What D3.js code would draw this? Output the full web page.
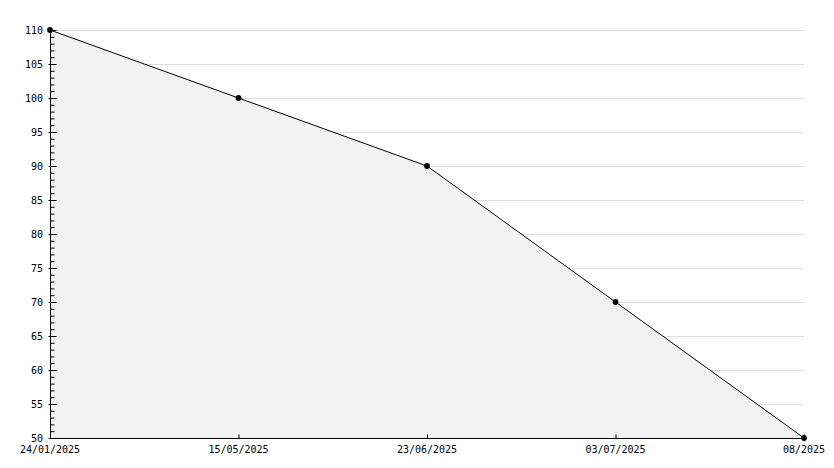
<!DOCTYPE html>
<html><head><meta charset="utf-8">
<script src="https://cdn.jsdelivr.net/npm/d3@7"></script>
<style>
html,body{margin:0;padding:0;background:#fff;}
svg{display:block;}
text{font-family:"DejaVu Sans Mono",monospace;font-size:10px;fill:#000;}
</style></head>
<body>
<svg id="chart" width="834" height="468"></svg>
<script>
const categories = ["24/01/2025","15/05/2025","23/06/2025","03/07/2025","08/2025"];
const values = [110, 100, 90, 70, 50];
const yMajorTicks = [50,55,60,65,70,75,80,85,90,95,100,105,110];
const yMin = 50, yMax = 110;

const svg = d3.select("#chart");
const L = 50, R = 804, T = 30, B = 438;

const x = d3.scalePoint().domain(categories).range([L, R]);
const y = d3.scaleLinear().domain([yMin, yMax]).range([B, T]);

// gridlines
svg.append("g").selectAll("line").data(yMajorTicks.filter(v => v !== yMin)).join("line")
  .attr("x1", L).attr("x2", R)
  .attr("y1", d => Math.round(y(d)) + 0.5).attr("y2", d => Math.round(y(d)) + 0.5)
  .attr("stroke", "#dddddd").attr("stroke-width", 1);

// area
const pts = categories.map((c, i) => ({c, v: values[i]}));
svg.append("path").datum(pts)
  .attr("d", d3.area().x(d => x(d.c)).y0(y(yMin)).y1(d => y(d.v)))
  .attr("fill", "#f2f2f2");

// line
svg.append("path").datum(pts)
  .attr("d", d3.line().x(d => x(d.c)).y(d => y(d.v)))
  .attr("fill", "none").attr("stroke", "#000").attr("stroke-width", 1);

// y axis
const yAxis = d3.axisRight(y).tickValues(yMajorTicks).tickSize(6).tickFormat("");
const gy = svg.append("g").attr("transform", `translate(${L + 0.5},0)`).call(yAxis);
gy.select(".domain").attr("d", `M0,${T}V${B}`).attr("stroke", "#000");
gy.selectAll(".tick line").attr("x1", -2).attr("x2", 6).attr("stroke", "#000");
// minor ticks
const minor = d3.range(yMin, yMax + 1, 1).filter(v => !yMajorTicks.includes(v));
const yMinor = d3.axisRight(y).tickValues(minor).tickSize(4).tickFormat("");
const gym = svg.append("g").attr("transform", `translate(${L + 0.5},0)`).call(yMinor);
gym.select(".domain").remove();
gym.selectAll(".tick line").attr("stroke", "#000");
// y labels
svg.append("g").selectAll("text").data(yMajorTicks).join("text")
  .attr("x", 43).attr("y", d => y(d)).attr("dy", "0.35em")
  .attr("text-anchor", "end").text(d => d);

// x axis
const xAxis = d3.axisTop(x).tickSize(4).tickFormat("");
const gx = svg.append("g").attr("transform", `translate(0,${B + 0.5})`).call(xAxis);
gx.select(".domain").attr("d", `M${L},0H${R + 2}`).attr("stroke", "#000");
gx.selectAll(".tick line").attr("stroke", "#000");
svg.append("g").selectAll("text").data(categories).join("text")
  .attr("x", d => x(d)).attr("y", B + 11).attr("dy", "0.35em")
  .attr("text-anchor", "middle").text(d => d);

// markers
svg.append("g").selectAll("path").data(pts).join("path")
  .attr("transform", d => `translate(${x(d.c)},${y(d.v)})`)
  .attr("d", d3.symbol().type(d3.symbolCircle).size(26))
  .attr("fill", "#000");
</script>
</body></html>
